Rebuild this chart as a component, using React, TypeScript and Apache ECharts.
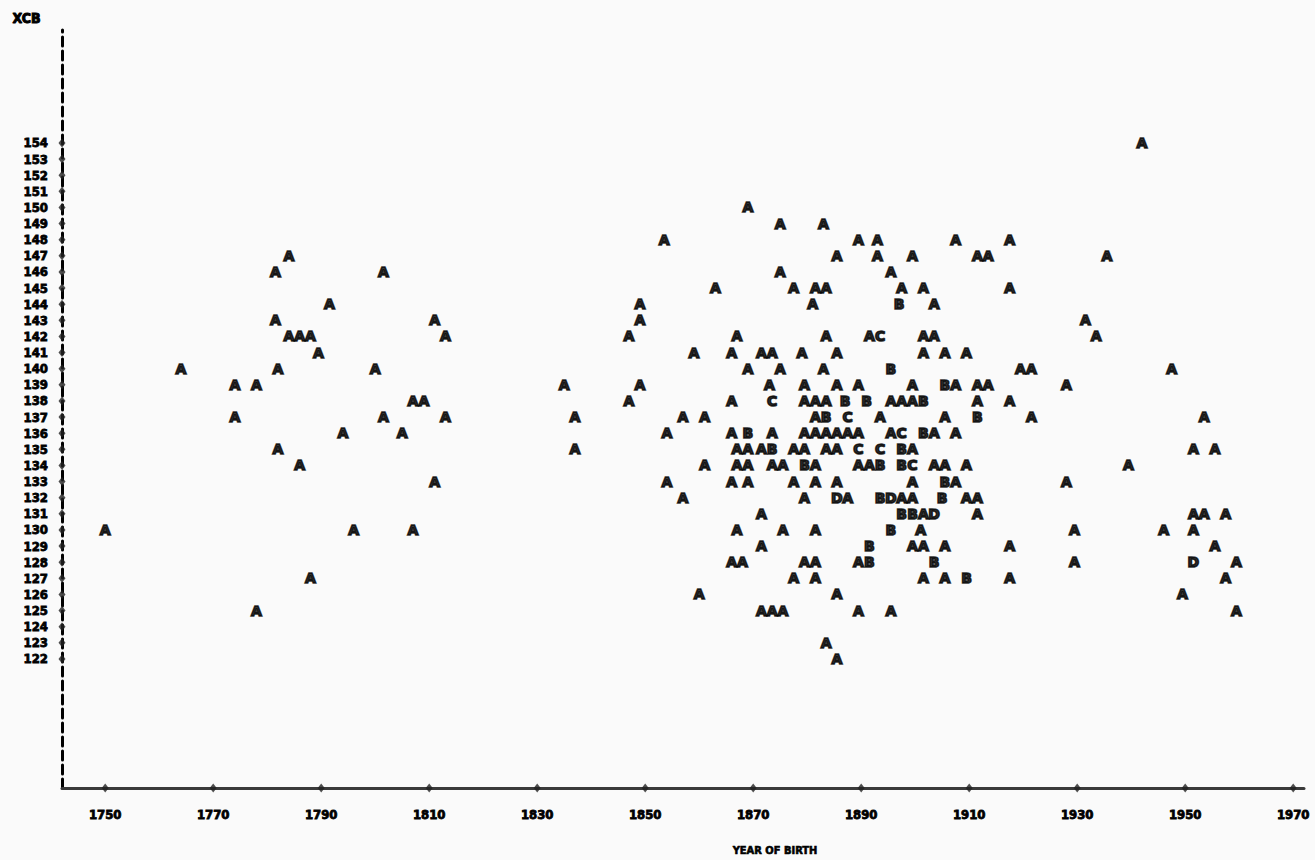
import React, { useEffect, useRef } from "react";
import * as echarts from "echarts";

const yearTicks = [1750, 1770, 1790, 1810, 1830, 1850, 1870, 1890, 1910, 1930, 1950, 1970];
const xcbTicks = [122, 123, 124, 125, 126, 127, 128, 129, 130, 131, 132, 133, 134, 135, 136, 137, 138, 139, 140, 141, 142, 143, 144, 145, 146, 147, 148, 149, 150, 151, 152, 153, 154];

// One observation per letter A; B = 2, C = 3, D = 4 (line-printer plot symbols)
const pointsA: [number, number][] = [
  [1942, 154],
  [1869, 150],
  [1875, 149], [1883, 149],
  [1853.5, 148], [1889.5, 148], [1893, 148], [1907.5, 148], [1917.5, 148],
  [1784, 147], [1885.5, 147], [1893, 147], [1899.5, 147], [1911.5, 147], [1913.5, 147], [1935.5, 147],
  [1781.5, 146], [1801.5, 146], [1875, 146], [1895.5, 146],
  [1863, 145], [1877.5, 145], [1881.5, 145], [1883.5, 145], [1897.5, 145], [1901.5, 145], [1917.5, 145],
  [1791.5, 144], [1849, 144], [1881, 144], [1903.5, 144],
  [1781.5, 143], [1811, 143], [1849, 143], [1931.5, 143],
  [1784, 142], [1786, 142], [1788, 142], [1813, 142], [1847, 142], [1867, 142], [1883.5, 142], [1891.5, 142], [1901.5, 142], [1903.5, 142], [1933.5, 142],
  [1789.5, 141], [1859, 141], [1866, 141], [1871.5, 141], [1873.5, 141], [1879, 141], [1885.5, 141], [1901.5, 141], [1905.5, 141], [1909.5, 141],
  [1764, 140], [1782, 140], [1800, 140], [1869, 140], [1875, 140], [1883, 140], [1919.5, 140], [1921.5, 140], [1947.5, 140],
  [1774, 139], [1778, 139], [1835, 139], [1849, 139], [1873, 139], [1879.5, 139], [1885.5, 139], [1889.5, 139], [1899.5, 139], [1907.5, 139], [1911.5, 139], [1913.5, 139], [1928, 139],
  [1807, 138], [1809, 138], [1847, 138], [1866, 138], [1879.5, 138], [1881.5, 138], [1883.5, 138], [1895.5, 138], [1897.5, 138], [1899.5, 138], [1911.5, 138], [1917.5, 138],
  [1774, 137], [1801.5, 137], [1813, 137], [1837, 137], [1857, 137], [1861, 137], [1881.5, 137], [1893.5, 137], [1905.5, 137], [1921.5, 137], [1953.5, 137],
  [1794, 136], [1805, 136], [1854, 136], [1866, 136], [1873.5, 136], [1879.5, 136], [1881.5, 136], [1883.5, 136], [1885.5, 136], [1887.5, 136], [1889.5, 136], [1895.5, 136], [1903.5, 136], [1907.5, 136],
  [1782, 135], [1837, 135], [1867, 135], [1869, 135], [1871.5, 135], [1877.5, 135], [1879.5, 135], [1883.5, 135], [1885.5, 135], [1899.5, 135], [1951.5, 135], [1955.5, 135],
  [1786, 134], [1861, 134], [1867, 134], [1869, 134], [1873.5, 134], [1875.5, 134], [1881.5, 134], [1889.5, 134], [1891.5, 134], [1903.5, 134], [1905.5, 134], [1909.5, 134], [1939.5, 134],
  [1811, 133], [1854, 133], [1866, 133], [1869, 133], [1877.5, 133], [1881.5, 133], [1885.5, 133], [1899.5, 133], [1907.5, 133], [1928, 133],
  [1857, 132], [1879.5, 132], [1887.5, 132], [1897.5, 132], [1899.5, 132], [1909.5, 132], [1911.5, 132],
  [1871.5, 131], [1901.5, 131], [1911.5, 131], [1951.5, 131], [1953.5, 131], [1957.5, 131],
  [1750, 130], [1796, 130], [1807, 130], [1867, 130], [1875.5, 130], [1881.5, 130], [1901, 130], [1929.5, 130], [1946, 130], [1951.5, 130],
  [1871.5, 129], [1899.5, 129], [1901.5, 129], [1905.5, 129], [1917.5, 129], [1955.5, 129],
  [1866, 128], [1868, 128], [1879.5, 128], [1881.5, 128], [1889.5, 128], [1929.5, 128], [1959.5, 128],
  [1788, 127], [1877.5, 127], [1881.5, 127], [1901.5, 127], [1905.5, 127], [1917.5, 127], [1957.5, 127],
  [1860, 126], [1885.5, 126], [1949.5, 126],
  [1778, 125], [1871.5, 125], [1873.5, 125], [1875.5, 125], [1889.5, 125], [1895.5, 125], [1959.5, 125],
  [1883.5, 123],
  [1885.5, 122],
];

const pointsB: [number, number][] = [
  [1897, 144],
  [1895.5, 140],
  [1905.5, 139],
  [1887, 138], [1891, 138], [1901.5, 138],
  [1883.5, 137], [1911.5, 137],
  [1869, 136], [1901.5, 136],
  [1873.5, 135], [1897.5, 135],
  [1879.5, 134], [1893.5, 134], [1897.5, 134],
  [1905.5, 133],
  [1893.5, 132], [1905, 132],
  [1897.5, 131], [1899.5, 131],
  [1895.5, 130],
  [1891.5, 129],
  [1891.5, 128], [1903.5, 128],
  [1909.5, 127],
];

const pointsC: [number, number][] = [
  [1893.5, 142],
  [1873.5, 138],
  [1887.5, 137],
  [1897.5, 136],
  [1889.5, 135], [1893.5, 135],
  [1899.5, 134],
];

const pointsD: [number, number][] = [
  [1885.5, 132], [1895.5, 132],
  [1903.5, 131],
  [1951.5, 128],
];

const FONT = "'DejaVu Sans Condensed', 'DejaVu Sans', sans-serif";
const INK = "#000000";

export default function App() {
  const ref = useRef<HTMLDivElement>(null);
  useEffect(() => {
    const chart = echarts.init(ref.current!, null, { renderer: "svg" });
    const letterSeries = (letter: string, data: [number, number][]) => ({
      type: "scatter",
      name: letter,
      data,
      symbol: "circle",
      symbolSize: 1,
      clip: false,
      itemStyle: { color: "rgba(0,0,0,0)" },
      label: {
        show: true,
        position: "inside",
        formatter: letter,
        color: INK,
        fontFamily: "'DejaVu Sans', sans-serif",
        fontWeight: 900,
        fontSize: 14,
        textBorderColor: INK,
        textBorderWidth: 1.6,
      },
      z: 5,
    });
    const tickMarks = [
      ...yearTicks.map((y) => [y, 114]),
      ...xcbTicks.map((v) => [1742, v]),
    ];
    const axisText = {
      fontFamily: FONT,
      fontWeight: "bold",
      fontSize: 13,
      color: INK,
      textBorderColor: INK,
      textBorderWidth: 0.8,
    };
    chart.setOption({
      animation: false,
      backgroundColor: "#fafafa",
      grid: { left: 62, right: 11, top: 30, bottom: 72 },
      xAxis: {
        type: "value",
        min: 1742,
        max: 1972,
        axisLine: { show: true, onZero: false, lineStyle: { color: "#3a3a3a", width: 3 } },
        axisTick: { show: false },
        splitLine: { show: false },
        axisLabel: {
          customValues: yearTicks,
          margin: 20,
          formatter: (v: number) => String(v),
          ...axisText,
        },
      },
      yAxis: {
        type: "value",
        min: 114,
        max: 161,
        axisLine: { show: true, onZero: false, lineStyle: { color: INK, width: 3, type: [9, 5] } },
        axisTick: { show: false },
        splitLine: { show: false },
        axisLabel: {
          customValues: xcbTicks,
          margin: 14,
          formatter: (v: number) => String(v),
          ...axisText,
        },
      },
      graphic: [
        {
          type: "text",
          left: 12,
          top: 10,
          style: {
            text: "XCB",
            fontFamily: FONT,
            fontWeight: "bold",
            fontSize: 14,
            fill: INK,
            stroke: INK,
            lineWidth: 1,
          },
        },
        {
          type: "text",
          x: 775,
          y: 850,
          style: {
            text: "YEAR OF BIRTH",
            fontFamily: FONT,
            fontWeight: "bold",
            fontSize: 11,
            fill: INK,
            stroke: INK,
            lineWidth: 0.6,
            align: "center",
            verticalAlign: "middle",
          },
        },
      ],
      series: [
        {
          type: "scatter",
          name: "ticks",
          data: tickMarks,
          symbol: "diamond",
          symbolSize: [7, 9],
          clip: false,
          itemStyle: { color: "#222" },
          z: 4,
        },
        letterSeries("A", pointsA),
        letterSeries("B", pointsB),
        letterSeries("C", pointsC),
        letterSeries("D", pointsD),
      ],
    });
    return () => chart.dispose();
  }, []);
  return (
    <div
      ref={ref}
      style={{ position: "fixed", left: 0, top: 0, width: 1315, height: 860 }}
    />
  );
}
